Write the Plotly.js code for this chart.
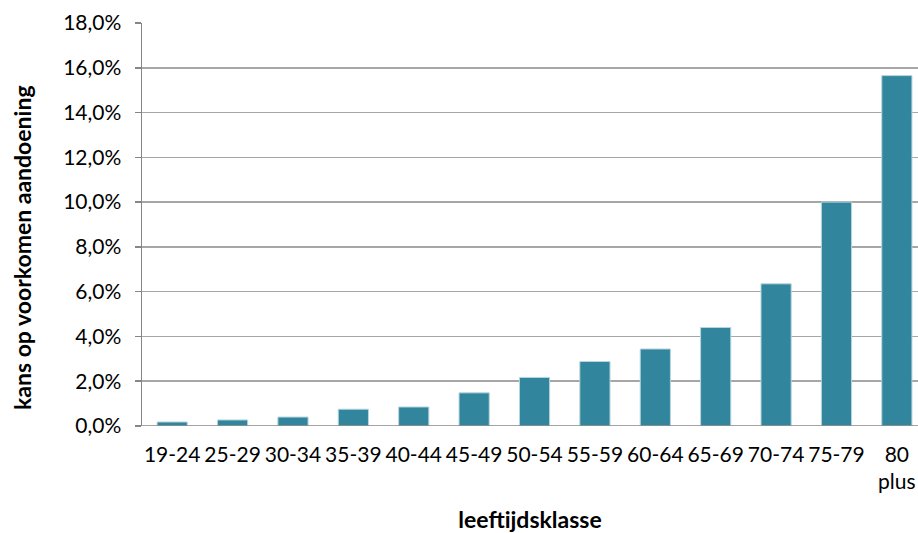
<!DOCTYPE html>
<html>
<head>
<meta charset="utf-8">
<script src="https://cdn.plot.ly/plotly-3.0.1.min.js"></script>
<style>html,body{margin:0;padding:0;background:#fff;}#chart{width:918px;height:533px;}</style>
</head>
<body>
<div id="chart"></div>
<script>
const categories = ["19-24","25-29","30-34","35-39","40-44","45-49","50-54","55-59","60-64","65-69","70-74","75-79","80<br>plus"];
const values = [0.0018,0.0027,0.0040,0.0075,0.0085,0.0148,0.0217,0.0288,0.0344,0.0440,0.0635,0.1000,0.1565];
const yTicks = [0,0.02,0.04,0.06,0.08,0.10,0.12,0.14,0.16,0.18];
const xTitle = "leeftijdsklasse";
const yTitle = "kans op voorkomen aandoening";

const font = "Lato, 'Open Sans', sans-serif";
Plotly.newPlot("chart", [{
  type: "bar",
  x: categories.map((c,i)=>i),
  y: values,
  width: 0.5,
  marker: {color: "#31859c", line: {color: "#b7d6df", width: 1}},
  hoverinfo: "none"
}], {
  width: 918, height: 533,
  margin: {l: 142, r: 0, t: 23, b: 107},
  separators: ", ",
  paper_bgcolor: "#fff", plot_bgcolor: "#fff",
  showlegend: false,
  bargap: 0.5,
  font: {family: font, size: 21, color: "#000"},
  xaxis: {
    range: [-0.5, 12.35],
    tickmode: "array",
    tickvals: categories.map((c,i)=>i),
    ticktext: categories,
    showgrid: false, zeroline: false,
    showline: false,
    ticks: "",
    ticklabelstandoff: 14,
    tickfont: {family: font, size: 21, color: "#000"},
    title: {text: xTitle, font: {family: font, size: 23, color: "#000", weight: "bold"}, standoff: 37},
    automargin: false
  },
  yaxis: {
    range: [0, 0.18],
    tickmode: "array",
    tickvals: yTicks,
    tickformat: ".1%",
    showgrid: true, gridcolor: "#a6a6a6", gridwidth: 1.5,
    zeroline: false,
    showline: true, linecolor: "#868686", linewidth: 1.5,
    ticks: "outside", ticklen: 6, tickcolor: "#868686", tickwidth: 1.5,
    ticklabelstandoff: 9,
    tickfont: {family: font, size: 21, color: "#000"},
    automargin: false
  },
  annotations: [{
    text: yTitle, xref: "paper", yref: "paper", x: 0, y: 0.4417,
    xanchor: "center", yanchor: "middle", xshift: -120, textangle: -90,
    showarrow: false, font: {family: font, size: 23, color: "#000", weight: "bold"}
  }],
  shapes: [{type: "line", xref: "paper", yref: "y", x0: 0, x1: 1, y0: 0, y1: 0, line: {color: "#868686", width: 1.5}}]
}, {staticPlot: true, displayModeBar: false});
</script>
</body>
</html>
